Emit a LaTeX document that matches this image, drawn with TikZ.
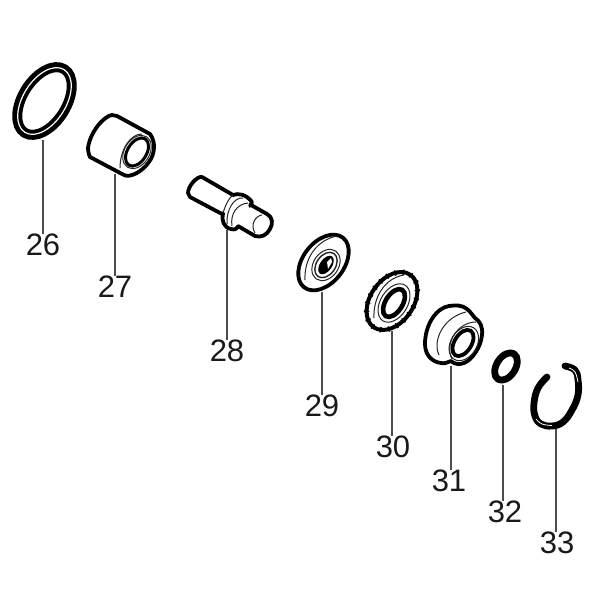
\documentclass[tikz,border=0pt]{standalone}
\usepackage{fontspec}
\setmainfont{Liberation Sans}
\tikzset{
  thick part/.style={line width=3.8pt,line join=round,line cap=round,black},
  heavy part/.style={line width=6.8pt,line join=round,line cap=round,black},
  thin part/.style={line width=1pt,black!85},
  leader/.style={line width=1.5pt,black!70},
  num/.style={font=\fontsize{31}{31}\selectfont,inner sep=0pt,text=black!90,anchor=center}
}
\begin{document}
\begin{tikzpicture}[x=1pt,y=1pt,yscale=-1]
\useasboundingbox (0,0) rectangle (600,600);
\fill[white] (0,0) rectangle (600,600);
% leader ends
\coordinate (p26) at (43,140);
\coordinate (p27) at (115,174);
\coordinate (p28) at (227,230);
\coordinate (p29) at (322,292);
\coordinate (p30) at (392,331);
\coordinate (p31) at (451,366);
\coordinate (p32) at (503,385);
\coordinate (p33) at (556,428);
% labels
\node[num] (n26) at (43,245) {26};
\node[num] (n27) at (115,287) {27};
\node[num] (n28) at (227,351) {28};
\node[num] (n29) at (322,406) {29};
\node[num] (n30) at (393,447) {30};
\node[num] (n31) at (449,481) {31};
\node[num] (n32) at (505,512) {32};
\node[num] (n33) at (557,543) {33};
\foreach \a in {26,27,28,29,30,31,32,33}
  \draw[leader] (p\a) -- (n\a.north -| p\a);
% 26 ring
\begin{scope}[shift={(44.5,101)},rotate=-58]
  \draw[black,line width=10pt] (0,0) ellipse [x radius=37.5,y radius=22];
  \draw[white,line width=1.2pt] (0,0) ellipse [x radius=37,y radius=21.5];
\end{scope}
% 27 sleeve
\draw[thick part,fill=white] (112,115) .. controls (104,116) and (90,132) .. (88,148)
  .. controls (88,153) and (90,157) .. (90,157) -- (124,175)
  .. controls (130,178) and (142,172) .. (149,162)
  .. controls (155,154) and (156,142) .. (150,134) -- (117,116)
  .. controls (115,115) and (114,115) .. (112,115);
\begin{scope}[shift={(137,152)},rotate=-58]
  \draw[thin part] (0,0) ellipse [x radius=18,y radius=12.5];
  \draw[line width=3pt,black] (0,0) ellipse [x radius=15.5,y radius=9.5];
\end{scope}
\draw[thin part] (120,168) .. controls (120,150) and (130,134) .. (142,134);
% 28 pin
\draw[thick part] (202,177) .. controls (197,176) and (188,186) .. (188,193)
  -- (190,197) -- (222,214);
\draw[thick part] (202,177) -- (233,195);
\draw[thick part] (233,195) .. controls (238,193) and (246,194) .. (252,202)
  -- (250,206);
\draw[thick part] (223,213) .. controls (221,220) and (224,228) .. (231,229)
  .. controls (235,230) and (236,229) .. (238,227);
\draw[thin part] (223,213) .. controls (226,203) and (230,197) .. (233,195);
\draw[thin part] (227,224) .. controls (226,210) and (234,197) .. (243,198);
\draw[thin part] (232,226) .. controls (230,214) and (237,204) .. (248,203);
\draw[thick part] (251,205) -- (267,214) .. controls (273,217) and (273,224) .. (270,229)
  .. controls (267,235) and (261,238) .. (255,236) -- (238,226);
\draw[thin part] (255,233) .. controls (250,225) and (255,216) .. (262,215);
% 29 washer
\begin{scope}[shift={(323.5,262.5)},rotate=-52]
  \draw[thick part] (0,0) ellipse [x radius=31.5,y radius=20.5];
\end{scope}
\begin{scope}[shift={(326,265)},rotate=-55]
  \draw[thin part] (0,0) ellipse [x radius=17,y radius=12.5];
  \draw[line width=1.4pt,black!85] (0,0) ellipse [x radius=14,y radius=9.5];
  \fill[black] (0,0) ellipse [x radius=10.5,y radius=6];
\end{scope}
\draw[thin part] (305,280) .. controls (304,258) and (317,240) .. (337,236);
\fill[white] (327,262) -- (331,258) -- (332,262) -- (328,269) -- cycle;
% 30 seal
\begin{scope}[shift={(392,301)},rotate=-55]
  \draw[line width=4pt,black,line join=round] (0,0) ellipse [x radius=32,y radius=21.5];
  \draw[black,line width=5.4pt,dash pattern=on 1.5pt off 7pt] (0,0) ellipse [x radius=32,y radius=21.5];
\end{scope}
\begin{scope}[shift={(394,303)},rotate=-58]
  \draw[line width=4.6pt,black] (0,0) ellipse [x radius=15.5,y radius=8.5];
  \draw[thin part] (0,0) ellipse [x radius=21,y radius=13.5];
\end{scope}
\draw[thin part] (374,318) .. controls (373,297) and (385,278) .. (404,275);
% 31 bushing
\draw[thick part] (449,306) .. controls (436,308) and (425,325) .. (425,344)
  .. controls (425,355) and (432,362) .. (441,363)
  .. controls (445,364) and (448,362) .. (451,361)
  .. controls (454,364) and (459,365) .. (464,363)
  .. controls (472,360) and (481,347) .. (482,335)
  .. controls (483,327) and (480,321) .. (475,318)
  .. controls (473,316) and (470,311) .. (467,309)
  .. controls (462,305) and (456,305) .. (449,306);
\draw[thin part] (439,355) .. controls (432,340) and (444,317) .. (466,312);
\draw[thin part] (452,359) .. controls (444,343) and (458,322) .. (476,322);
\begin{scope}[shift={(463,343)},rotate=-58]
  \draw[line width=3.8pt,black] (0,0) ellipse [x radius=14.5,y radius=8.5];
  \draw[thin part] (0,1) ellipse [x radius=18.5,y radius=13];
\end{scope}
% 32 o-ring
\begin{scope}[shift={(506,366.5)},rotate=-58]
  \draw[heavy part] (0,0) ellipse [x radius=15,y radius=9.5];
\end{scope}
% 33 circlip
\draw[heavy part] plot[smooth,tension=0.7] coordinates {(547,377) (538,388) (534,403) (535,416) (541,424) (552,426) (563,422) (572,410) (578,395) (578,380) (575,370) (565,366)};
\draw[white,line width=0.8pt] plot[smooth,tension=0.7] coordinates {(536,419) (542,424) (552,425.5)};
\draw[white,line width=0.8pt] plot[smooth,tension=0.7] coordinates {(578,382) (575,372) (569,368)};
\end{tikzpicture}
\end{document}
